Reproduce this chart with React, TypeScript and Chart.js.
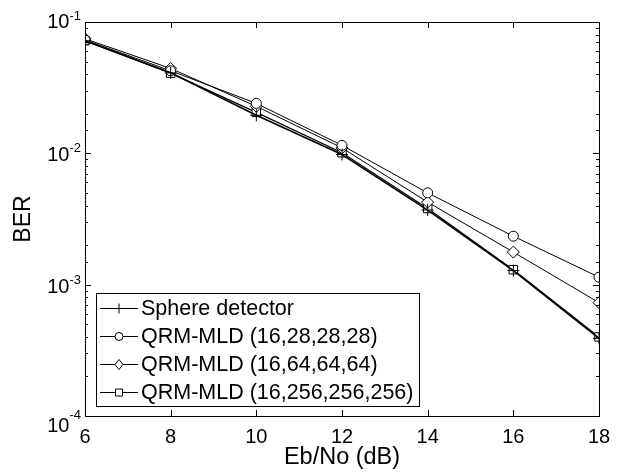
import React, { useEffect, useRef } from 'react';
import { Chart, registerables } from 'chart.js';

Chart.register(...registerables);

const snrDb = [6, 8, 10, 12, 14, 16, 18];
const sphereBer = [0.072, 0.041, 0.0195, 0.0098, 0.0037, 0.00128, 0.00039];
const qrm28Ber = [0.073, 0.0425, 0.024, 0.0115, 0.005, 0.00234, 0.00114];
const qrm64Ber = [0.0745, 0.0443, 0.0228, 0.011, 0.00425, 0.00177, 0.00073];
const qrm256Ber = [0.072, 0.0408, 0.0205, 0.0101, 0.0038, 0.0013, 0.0004];
const seriesLabels = [
  'Sphere detector',
  'QRM-MLD (16,28,28,28)',
  'QRM-MLD (16,64,64,64)',
  'QRM-MLD (16,256,256,256)',
];
const seriesMarkers = ['cross', 'circle', 'rectRot', 'rect'];
const xMin = 6;
const xMax = 18;
const xStep = 2;
const yMin = 1e-4;
const yMax = 1e-1;
const xTitle = 'Eb/No (dB)';
const yTitle = 'BER';

const FONT = "'Liberation Sans', Arial, Helvetica, sans-serif";

function drawMarker(ctx: CanvasRenderingContext2D, style: string, x: number, y: number) {
  ctx.beginPath();
  if (style === 'cross') {
    ctx.moveTo(x - 5, y); ctx.lineTo(x + 5, y);
    ctx.moveTo(x, y - 5); ctx.lineTo(x, y + 5);
    ctx.stroke();
    return;
  }
  if (style === 'circle') {
    ctx.arc(x, y, 4, 0, Math.PI * 2);
  } else if (style === 'rectRot') {
    ctx.moveTo(x, y - 5); ctx.lineTo(x + 4, y); ctx.lineTo(x, y + 5); ctx.lineTo(x - 4, y); ctx.closePath();
  } else {
    ctx.rect(x - 3.5, y - 3.5, 7, 7);
  }
  ctx.fillStyle = '#fff';
  ctx.fill();
  ctx.stroke();
}

const framePlugin = {
  id: 'matlabFrame',
  afterDatasetsDraw(chart: any) {
    const { ctx, chartArea: a, scales } = chart;
    const xs = scales.x;
    const ys = scales.y;
    ctx.save();
    ctx.strokeStyle = '#000';
    ctx.lineWidth = 1;
    ctx.strokeRect(Math.round(a.left) + 0.5, Math.round(a.top) + 0.5, Math.round(a.right - a.left), Math.round(a.bottom - a.top));
    ctx.beginPath();
    for (const t of xs.ticks) {
      const px = Math.round(xs.getPixelForValue(t.value)) + 0.5;
      ctx.moveTo(px, a.bottom); ctx.lineTo(px, a.bottom - 6);
      ctx.moveTo(px, a.top); ctx.lineTo(px, a.top + 6);
    }
    const decades: number[] = [];
    for (const t of ys.ticks) {
      const lg = Math.log10(t.value);
      const major = Math.abs(lg - Math.round(lg)) < 1e-6;
      if (major) decades.push(t.value);
      const py = Math.round(ys.getPixelForValue(t.value)) + 0.5;
      const len = major ? 6 : 3;
      ctx.moveTo(a.left, py); ctx.lineTo(a.left + len, py);
      ctx.moveTo(a.right, py); ctx.lineTo(a.right - len, py);
    }
    ctx.stroke();

    // y decade labels 10^n
    ctx.fillStyle = '#000';
    ctx.textBaseline = 'alphabetic';
    ctx.textAlign = 'left';
    for (const v of decades) {
      const py = ys.getPixelForValue(v);
      const exp = String(Math.round(Math.log10(v)));
      ctx.font = `13px ${FONT}`;
      const supW = ctx.measureText(exp).width;
      ctx.font = `20px ${FONT}`;
      const baseW = ctx.measureText('10').width;
      const right = a.left - 4;
      let baseY = py + 8;
      let supY = py - 1;
      if (v === yMin) { baseY = py + 16; supY = py + 3; }
      if (v === yMax) { baseY = py + 6; supY = py - 2; }
      ctx.fillText('10', right - supW - baseW, baseY);
      ctx.font = `13px ${FONT}`;
      ctx.fillText(exp, right - supW, supY);
    }

    // legend
    const lx = a.left + 11;
    const rowH = 28;
    const n = chart.data.datasets.length;
    const lh = rowH * n + 1;
    const lb = a.bottom - 10;
    const lt = lb - lh;
    ctx.font = `21.5px ${FONT}`;
    let maxW = 0;
    for (const ds of chart.data.datasets) maxW = Math.max(maxW, ctx.measureText(ds.label).width);
    const lw = 45 + maxW + 6;
    ctx.fillStyle = '#fff';
    ctx.fillRect(lx, lt, lw, lh);
    ctx.strokeStyle = '#000';
    ctx.lineWidth = 1;
    ctx.strokeRect(Math.round(lx) + 0.5, Math.round(lt) + 0.5, Math.round(lw), Math.round(lh));
    chart.data.datasets.forEach((ds: any, i: number) => {
      const cy = lt + 15 + i * rowH;
      ctx.strokeStyle = '#000';
      ctx.lineWidth = 1;
      ctx.beginPath();
      ctx.moveTo(lx + 4, Math.round(cy) + 0.5);
      ctx.lineTo(lx + 42, Math.round(cy) + 0.5);
      ctx.stroke();
      drawMarker(ctx, seriesMarkers[i], lx + 23, Math.round(cy) + 0.5);
      ctx.fillStyle = '#000';
      ctx.font = `21.5px ${FONT}`;
      ctx.textBaseline = 'middle';
      ctx.textAlign = 'left';
      ctx.fillText(ds.label, lx + 45, cy + 1);
    });
    ctx.restore();
  },
};

export default function App() {
  const ref = useRef<HTMLCanvasElement | null>(null);
  useEffect(() => {
    document.body.style.margin = '0';
    const canvas = ref.current;
    if (!canvas) return;
    const series = [sphereBer, qrm28Ber, qrm64Ber, qrm256Ber];
    const radii = [6, 5, 6, 6];
    const widths = [1.6, 1, 1, 1.2];
    const chart = new Chart(canvas, {
      type: 'line',
      data: {
        datasets: series.map((vals, i) => ({
          label: seriesLabels[i],
          data: snrDb.map((x, j) => ({ x, y: vals[j] })),
          borderColor: '#000',
          backgroundColor: '#fff',
          borderWidth: widths[i],
          pointStyle: seriesMarkers[i] as any,
          pointRadius: radii[i],
          pointBorderWidth: 1,
          pointBorderColor: '#000',
          pointBackgroundColor: '#fff',
          tension: 0,
          fill: false,
        })),
      },
      options: {
        animation: false,
        responsive: true,
        maintainAspectRatio: false,
        layout: { padding: { left: 0, right: 26, top: 22, bottom: 0 } },
        plugins: { legend: { display: false }, tooltip: { enabled: false } },
        scales: {
          x: {
            type: 'linear',
            min: xMin,
            max: xMax,
            grid: { display: false, drawTicks: false },
            border: { display: false },
            ticks: { stepSize: xStep, color: '#000', font: { family: FONT, size: 20 }, padding: 9, maxRotation: 0 },
            title: { display: true, text: xTitle, color: '#000', font: { family: FONT, size: 23.5 }, padding: 3 },
            afterFit: (s: any) => { s.height = 59; },
          },
          y: {
            type: 'logarithmic',
            min: yMin,
            max: yMax,
            grid: { display: false, drawTicks: false },
            border: { display: false },
            ticks: { display: false },
            title: { display: true, text: yTitle, color: '#000', font: { family: FONT, size: 23 }, padding: 10 },
            afterFit: (s: any) => { s.width = 85; },
          },
        },
      },
      plugins: [framePlugin],
    });
    return () => chart.destroy();
  }, []);
  return (
    <div style={{ width: 625, height: 475, position: 'relative', background: '#fff' }}>
      <canvas ref={ref} />
    </div>
  );
}
